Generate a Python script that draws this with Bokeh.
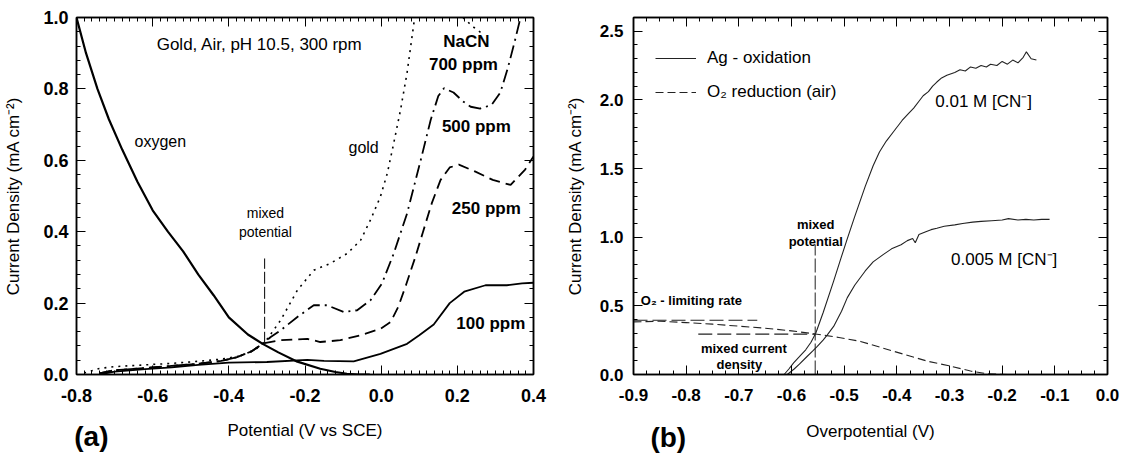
import numpy as np
from bokeh.plotting import figure
from bokeh.layouts import row
from bokeh.models import Range1d, FixedTicker, LinearAxis, Label, Legend, LegendItem
from bokeh.embed import file_html
from bokeh.resources import INLINE

FONT = "Liberation Sans"
NAN = float("nan")

# ---------------- panel (a): gold, air, pH 10.5 ----------------
a_xticks = [-0.8, -0.6, -0.4, -0.2, 0.0, 0.2, 0.4]
a_xlabels = ["-0.8", "-0.6", "-0.4", "-0.2", "0.0", "0.2", "0.4"]
a_yticks = [0.0, 0.2, 0.4, 0.6, 0.8, 1.0]
a_ylabels = ["0.0", "0.2", "0.4", "0.6", "0.8", "1.0"]

oxygen_v = [-0.80, -0.775, -0.745, -0.715, -0.68, -0.64, -0.60, -0.56, -0.52, -0.48,
            -0.44, -0.40, -0.35, -0.31, -0.27, -0.22, -0.16, -0.12, -0.09, -0.06, -0.03]
oxygen_j = [1.00, 0.90, 0.80, 0.715, 0.63, 0.54, 0.46, 0.40, 0.345, 0.28,
            0.222, 0.16, 0.112, 0.085, 0.062, 0.036, 0.016, 0.007, 0.002, 0.0, 0.0]

gold_v = [-0.78, -0.74, -0.70, -0.62, -0.55, -0.48, -0.42, -0.37, -0.33, -0.30, -0.264,
          -0.22, -0.177, -0.134, -0.089, -0.054, -0.028, -0.002, 0.016, 0.033, 0.051,
          0.068, 0.088, NAN, 0.215, 0.24, 0.265]
gold_j = [0.004, 0.017, 0.022, 0.027, 0.031, 0.037, 0.043, 0.052, 0.07, 0.098, 0.152,
          0.236, 0.292, 0.311, 0.339, 0.376, 0.433, 0.498, 0.563, 0.648, 0.742,
          0.845, 1.0, NAN, 1.0, 0.975, 0.955]

ppm500_v = [-0.74, -0.70, -0.62, -0.55, -0.48, -0.42, -0.38, -0.34, -0.31, -0.29, -0.264,
            -0.22, -0.177, -0.142, -0.098, -0.063, -0.028, 0.002, 0.033, 0.068, 0.104,
            0.13, 0.15, 0.165, 0.19, 0.215, 0.235, 0.26, 0.29, 0.313, 0.333, 0.35, 0.366]
ppm500_j = [0.003, 0.012, 0.018, 0.024, 0.03, 0.038, 0.048, 0.065, 0.087, 0.105, 0.124,
            0.161, 0.194, 0.194, 0.175, 0.18, 0.208, 0.255, 0.339, 0.451, 0.601,
            0.713, 0.78, 0.802, 0.79, 0.765, 0.75, 0.745, 0.755, 0.79, 0.86, 0.93, 1.0]

ppm250_v = [-0.74, -0.70, -0.62, -0.55, -0.48, -0.42, -0.38, -0.34, -0.31, -0.264, -0.194,
            -0.16, -0.107, -0.054, -0.002, 0.025, 0.045, 0.065, 0.09, 0.11, 0.133, 0.156,
            0.18, 0.204, 0.246, 0.293, 0.34, 0.378, 0.40]
ppm250_j = [0.003, 0.012, 0.018, 0.024, 0.03, 0.038, 0.048, 0.065, 0.087, 0.096, 0.10,
            0.091, 0.096, 0.11, 0.128, 0.147, 0.19, 0.25, 0.33, 0.40, 0.48, 0.545,
            0.58, 0.588, 0.569, 0.545, 0.531, 0.574, 0.611]

ppm100_v = [-0.74, -0.70, -0.62, -0.55, -0.48, -0.40, -0.30, -0.194, -0.15, -0.072, -0.002,
            0.068, 0.10, 0.138, 0.18, 0.218, 0.274, 0.33, 0.37, 0.40]
ppm100_j = [0.0, 0.008, 0.015, 0.02, 0.027, 0.033, 0.035, 0.041, 0.038, 0.037, 0.058,
            0.086, 0.11, 0.14, 0.20, 0.232, 0.25, 0.25, 0.255, 0.257]

a_mixed_potential = -0.306
a_mixed_low, a_mixed_high = 0.086, 0.325

# ---------------- panel (b): silver in cyanide ----------------
b_xticks = [-0.9, -0.8, -0.7, -0.6, -0.5, -0.4, -0.3, -0.2, -0.1, 0.0]
b_xlabels = ["-0.9", "-0.8", "-0.7", "-0.6", "-0.5", "-0.4", "-0.3", "-0.2", "-0.1", "0.0"]
b_yticks = [0.0, 0.5, 1.0, 1.5, 2.0, 2.5]
b_ylabels = ["0.0", "0.5", "1.0", "1.5", "2.0", "2.5"]

o2_v = [-0.90, -0.85, -0.80, -0.75, -0.70, -0.65, -0.60, -0.555, -0.51, -0.469,
        -0.406, -0.342, -0.298, -0.26, -0.228, -0.19, -0.17]
o2_j = [0.383, 0.388, 0.378, 0.367, 0.352, 0.337, 0.318, 0.295, 0.27, 0.241,
        0.169, 0.097, 0.061, 0.025, 0.006, 0.0, 0.0]

ag01_v = [-0.614, -0.605, -0.596, -0.585, -0.573, -0.563, -0.554, -0.54, -0.52, -0.505,
          -0.494, -0.48, -0.46, -0.445, -0.433, -0.42, -0.406, -0.39, -0.378, -0.368,
          -0.358, -0.35, -0.34, -0.332, -0.324, -0.315, -0.305, -0.29, -0.28, -0.27,
          -0.26, -0.25, -0.24, -0.23, -0.222, -0.21, -0.20, -0.19, -0.18, -0.17,
          -0.16, -0.154, -0.145, -0.135]
ag01_j = [0.0, 0.04, 0.085, 0.13, 0.18, 0.235, 0.30, 0.45, 0.68, 0.86,
          0.99, 1.15, 1.37, 1.52, 1.62, 1.70, 1.77, 1.85, 1.90, 1.94,
          1.99, 2.03, 2.06, 2.10, 2.13, 2.16, 2.18, 2.20, 2.22, 2.21,
          2.24, 2.23, 2.25, 2.24, 2.26, 2.25, 2.28, 2.26, 2.29, 2.27,
          2.31, 2.35, 2.30, 2.29]

ag005_v = [-0.608, -0.595, -0.585, -0.57, -0.56, -0.551, -0.54, -0.532, -0.52, -0.505,
           -0.494, -0.48, -0.46, -0.445, -0.426, -0.41, -0.392, -0.38, -0.37, -0.365,
           -0.358, -0.345, -0.335, -0.324, -0.31, -0.29, -0.275, -0.256, -0.24, -0.22,
           -0.20, -0.188, -0.17, -0.155, -0.14, -0.125, -0.11]
ag005_j = [0.0, 0.04, 0.075, 0.133, 0.17, 0.205, 0.25, 0.289, 0.35, 0.46,
           0.56, 0.65, 0.754, 0.82, 0.873, 0.915, 0.945, 0.975, 0.99, 0.96,
           1.02, 1.04, 1.055, 1.065, 1.08, 1.09, 1.10, 1.11, 1.115, 1.12,
           1.125, 1.135, 1.125, 1.13, 1.125, 1.13, 1.13]

b_mixed_potential = -0.555
b_mixed_top = 0.945
b_mixed_current = 0.294
b_mixed_current_start = -0.777
b_limiting_rate = 0.395
b_limiting_end = -0.665

# panel tags, placed under the x axis at these x positions
a_tag, a_tag_x = "(a)", -0.761
b_tag, b_tag_x = "(b)", -0.834


def frame_axes(p, xt, xl, xminor, yt, yl, yminor, tick_fs, major_len, minor_len):
    """Boxed frame with inward ticks on all four sides, labels on left/bottom.
    Returns the (bottom, left) axes."""
    bottom = p.below[0]
    left = p.left[0]
    xt_ticker = FixedTicker(ticks=xt, minor_ticks=xminor)
    yt_ticker = FixedTicker(ticks=yt, minor_ticks=yminor)
    bottom.ticker = xt_ticker
    left.ticker = yt_ticker
    bottom.major_label_overrides = dict(zip(xt, xl))
    left.major_label_overrides = dict(zip(yt, yl))
    top = LinearAxis(ticker=xt_ticker, major_label_overrides={v: "" for v in xt})
    right = LinearAxis(ticker=yt_ticker, major_label_overrides={v: "" for v in yt})
    p.add_layout(top, "above")
    p.add_layout(right, "right")
    for ax in [bottom, left, top, right]:
        ax.major_tick_in = major_len
        ax.major_tick_out = 0
        ax.minor_tick_in = minor_len
        ax.minor_tick_out = 0
        ax.axis_line_color = "black"
        ax.axis_line_width = 1.5
        ax.major_tick_line_color = "black"
        ax.minor_tick_line_color = "black"
        ax.major_tick_line_width = 1
        ax.minor_tick_line_width = 1
        ax.major_label_text_font = FONT
        ax.major_label_text_font_style = "bold"
        ax.major_label_text_font_size = tick_fs
        ax.major_label_text_color = "black"
        ax.axis_label_text_font = FONT
        ax.axis_label_text_font_style = "normal"
        ax.axis_label_text_font_size = "17px"
        ax.axis_label_text_color = "black"
    top.major_label_standoff = 0
    right.major_label_standoff = 0
    p.xgrid.visible = False
    p.ygrid.visible = False
    p.outline_line_color = "black"
    p.outline_line_width = 1.5
    return bottom, left


def add_tag(p, x, text, standoff):
    """Panel tag drawn as the single label of an extra, line-less bottom axis."""
    tag_axis = LinearAxis(ticker=FixedTicker(ticks=[x], minor_ticks=[]),
                          major_label_overrides={x: text},
                          axis_line_color=None, major_tick_line_color=None,
                          minor_tick_line_color=None, major_tick_in=0, major_tick_out=0,
                          minor_tick_in=0, minor_tick_out=0,
                          major_label_standoff=standoff,
                          major_label_text_font=FONT, major_label_text_font_size="28px",
                          major_label_text_font_style="bold", major_label_text_color="black")
    p.add_layout(tag_axis, "below")


def add_text(p, x, y, text, size, style="normal", align="center"):
    p.add_layout(Label(x=x, y=y, text=text, text_font=FONT, text_font_size=size,
                       text_font_style=style, text_align=align, text_baseline="middle",
                       text_color="black"))


# ---------- figure (a) ----------
pa = figure(width=560, height=457, output_backend="svg", toolbar_location=None,
            x_range=Range1d(-0.8, 0.4), y_range=Range1d(0.0, 1.0),
            min_border_left=76, min_border_right=27, min_border_top=17, min_border_bottom=83,
            background_fill_color="white", border_fill_color="white")
xa_ax, ya_ax = frame_axes(pa, a_xticks, a_xlabels, list(np.round(np.arange(-0.8, 0.4001, 0.02), 3)),
                          a_yticks, a_ylabels, list(np.round(np.arange(0.0, 1.0001, 0.04), 3)),
                          "18px", 9, 4)
xa_ax.axis_label = "Potential (V vs SCE)"
ya_ax.axis_label = "Current Density (mA cm\u207b\u00b2)"
xa_ax.major_label_standoff = 14
xa_ax.axis_label_standoff = 16
ya_ax.major_label_standoff = 8
ya_ax.axis_label_standoff = 17
add_tag(pa, a_tag_x, a_tag, -22)

pa.line(oxygen_v, oxygen_j, line_color="black", line_width=2.2)
pa.line(ppm100_v, ppm100_j, line_color="black", line_width=1.8)
pa.line(ppm250_v, ppm250_j, line_color="black", line_width=1.8, line_dash="11 6")
pa.line(ppm500_v, ppm500_j, line_color="black", line_width=1.8, line_dash="13 5 2 5")
pa.line(gold_v, gold_j, line_color="black", line_width=1.6, line_dash="2 5")
pa.segment(x0=[a_mixed_potential], y0=[a_mixed_low], x1=[a_mixed_potential], y1=[a_mixed_high],
           line_color="black", line_width=1, line_dash="12 3")

add_text(pa, -0.319, 0.924, "Gold, Air, pH 10.5, 300 rpm", "17px")
add_text(pa, 0.224, 0.933, "NaCN", "17px", "bold")
add_text(pa, 0.216, 0.868, "700 ppm", "17px", "bold")
add_text(pa, 0.250, 0.695, "500 ppm", "17px", "bold")
add_text(pa, 0.276, 0.466, "250 ppm", "17px", "bold")
add_text(pa, 0.288, 0.144, "100 ppm", "17px", "bold")
add_text(pa, -0.580, 0.653, "oxygen", "16px")
add_text(pa, -0.046, 0.635, "gold", "16px")
add_text(pa, -0.304, 0.452, "mixed", "14px")
add_text(pa, -0.304, 0.399, "potential", "14px")

# ---------- figure (b) ----------
pb = figure(width=563, height=457, output_backend="svg", toolbar_location=None,
            x_range=Range1d(-0.9, 0.0), y_range=Range1d(0.0, 2.6),
            min_border_left=73, min_border_right=16, min_border_top=17, min_border_bottom=79,
            background_fill_color="white", border_fill_color="white")
xb_ax, yb_ax = frame_axes(pb, b_xticks, b_xlabels, list(np.round(np.arange(-0.9, 0.0001, 0.025), 4)),
                          b_yticks, b_ylabels, list(np.round(np.arange(0.0, 2.6001, 0.1), 3)),
                          "17px", 9, 4)
xb_ax.axis_label = "Overpotential (V)"
yb_ax.axis_label = "Current Density (mA cm\u207b\u00b2)"
xb_ax.major_label_standoff = 14
xb_ax.axis_label_standoff = 18
yb_ax.major_label_standoff = 10
yb_ax.axis_label_standoff = 12
add_tag(pb, b_tag_x, b_tag, -22)

r_ag1 = pb.line(ag01_v, ag01_j, line_color="#222222", line_width=1.1)
pb.line(ag005_v, ag005_j, line_color="#222222", line_width=1.1)
r_o2 = pb.line(o2_v, o2_j, line_color="#222222", line_width=1.1, line_dash="8 4")
pb.segment(x0=[b_mixed_potential], y0=[0.0], x1=[b_mixed_potential], y1=[b_mixed_top],
           line_color="#222222", line_width=1, line_dash="14 3")
pb.segment(x0=[-0.9], y0=[b_limiting_rate], x1=[b_limiting_end], y1=[b_limiting_rate],
           line_color="#222222", line_width=1.1, line_dash="14 5")
pb.segment(x0=[b_mixed_current_start], y0=[b_mixed_current], x1=[b_mixed_potential],
           y1=[b_mixed_current], line_color="#222222", line_width=1.1, line_dash="14 5")

legend = Legend(items=[LegendItem(label="Ag - oxidation", renderers=[r_ag1]),
                       LegendItem(label="O\u2082 reduction (air)", renderers=[r_o2])],
                location=(22, 272), orientation="vertical",
                glyph_width=41, glyph_height=20, label_height=20, spacing=14,
                label_standoff=11, padding=0, margin=0,
                border_line_color=None, background_fill_alpha=0,
                label_text_font=FONT, label_text_font_size="17px", label_text_color="black")
pb.add_layout(legend, "center")

add_text(pb, -0.327, 1.986, "0.01 M [CN\u207b]", "17px", align="left")
add_text(pb, -0.297, 0.837, "0.005 M [CN\u207b]", "17px", align="left")
add_text(pb, -0.554, 1.089, "mixed", "13px", "bold")
add_text(pb, -0.554, 0.969, "potential", "13px", "bold")
add_text(pb, -0.886, 0.538, "O\u2082 - limiting rate", "13px", "bold", align="left")
add_text(pb, -0.772, 0.187, "mixed current", "13px", "bold", align="left")
add_text(pb, -0.699, 0.072, "density", "13px", "bold")

layout = row(pa, pb)
open("out.html", "w").write(file_html(layout, INLINE))
